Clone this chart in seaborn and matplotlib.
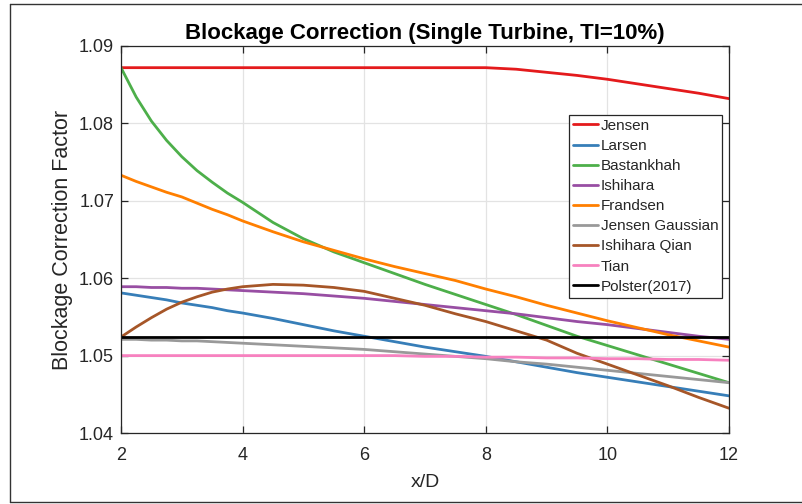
import numpy as np
import pandas as pd
import matplotlib
matplotlib.use("Agg")
import matplotlib.pyplot as plt
import seaborn as sns
from matplotlib.lines import Line2D

# Downstream distance (rotor diameters); finer spacing in the near wake
x_d = [2.0, 2.25, 2.5, 2.75, 3.0, 3.25, 3.5, 3.75, 4.0, 4.5, 5.0, 5.5, 6.0, 6.5, 7.0,
       7.5, 8.0, 8.5, 9.0, 9.5, 10.0, 10.5, 11.0, 11.5, 12.0]

# Blockage correction factor for each wake model
jensen = [1.0872, 1.0872, 1.0872, 1.0872, 1.0872, 1.0872, 1.0872, 1.0872, 1.0872, 1.0872,
          1.0872, 1.0872, 1.0872, 1.0872, 1.0872, 1.0872, 1.0872, 1.0870, 1.0866, 1.0862,
          1.0857, 1.0851, 1.0845, 1.0839, 1.0832]
larsen = [1.0581, 1.0578, 1.0575, 1.0572, 1.0568, 1.0565, 1.0562, 1.0558, 1.0555, 1.0548,
          1.0540, 1.0532, 1.0525, 1.0518, 1.0511, 1.0505, 1.0499, 1.0492, 1.0485, 1.0478,
          1.0472, 1.0466, 1.0460, 1.0454, 1.0448]
bastankhah = [1.0872, 1.0834, 1.0803, 1.0778, 1.0757, 1.0739, 1.0724, 1.0710, 1.0698, 1.0672,
              1.0651, 1.0634, 1.0620, 1.0606, 1.0592, 1.0579, 1.0566, 1.0553, 1.0539, 1.0525,
              1.0513, 1.0501, 1.0489, 1.0477, 1.0465]
ishihara = [1.0589, 1.0589, 1.0588, 1.0588, 1.0587, 1.0587, 1.0586, 1.0585, 1.0584, 1.0582,
            1.0580, 1.0577, 1.0574, 1.0570, 1.0566, 1.0562, 1.0558, 1.0554, 1.0549, 1.0544,
            1.0540, 1.0535, 1.0530, 1.0525, 1.0521]
frandsen = [1.0733, 1.0725, 1.0718, 1.0711, 1.0705, 1.0697, 1.0689, 1.0682, 1.0674, 1.0660,
            1.0647, 1.0636, 1.0625, 1.0615, 1.0606, 1.0597, 1.0586, 1.0576, 1.0565, 1.0555,
            1.0545, 1.0536, 1.0527, 1.0519, 1.0511]
jensen_gaussian = [1.0521, 1.0521, 1.0520, 1.0520, 1.0519, 1.0519, 1.0518, 1.0517, 1.0516, 1.0514,
                   1.0512, 1.0510, 1.0508, 1.0505, 1.0502, 1.0499, 1.0496, 1.0492, 1.0489, 1.0485,
                   1.0481, 1.0477, 1.0473, 1.0469, 1.0465]
ishihara_qian = [1.0524, 1.0537, 1.0549, 1.0560, 1.0569, 1.0576, 1.0582, 1.0586, 1.0589, 1.0592,
                 1.0591, 1.0588, 1.0583, 1.0574, 1.0565, 1.0554, 1.0544, 1.0532, 1.0520, 1.0503,
                 1.0489, 1.0475, 1.0461, 1.0446, 1.0432]
tian = [1.0500, 1.0500, 1.0500, 1.0500, 1.0500, 1.0500, 1.0500, 1.0500, 1.0500, 1.0500,
        1.0500, 1.0500, 1.0500, 1.0500, 1.0499, 1.0499, 1.0498, 1.0498, 1.0497, 1.0497,
        1.0496, 1.0496, 1.0495, 1.0495, 1.0494]
polster = [1.0524] * len(x_d)

model_names = ["Jensen", "Larsen", "Bastankhah", "Ishihara", "Frandsen",
               "Jensen Gaussian", "Ishihara Qian", "Tian", "Polster(2017)"]
model_values = [jensen, larsen, bastankhah, ishihara, frandsen,
                jensen_gaussian, ishihara_qian, tian, polster]
model_colors = ["#e41a1c", "#377eb8", "#4daf4a", "#984ea3", "#ff7f00",
                "#999999", "#a65628", "#f781bf", "#000000"]

x_ticks = [2, 4, 6, 8, 10, 12]
y_ticks = [1.04, 1.05, 1.06, 1.07, 1.08, 1.09]

frames = [pd.DataFrame({"x/D": x_d, "factor": vals, "model": name})
          for name, vals in zip(model_names, model_values)]
df = pd.concat(frames, ignore_index=True)

sns.set_theme(style="white")
plt.rcParams["font.family"] = ["Liberation Sans", "DejaVu Sans"]

axis_grey = "#262626"

fig = plt.figure(figsize=(8.02, 5.04), dpi=100)
ax = fig.add_axes([121 / 802, 1 - 433 / 504, 608 / 802, 387 / 504])

sns.lineplot(data=df, x="x/D", y="factor", hue="model", hue_order=model_names,
             palette=dict(zip(model_names, model_colors)), linewidth=2.0,
             ax=ax, legend=False, sort=False)

ax.set_xlim(2, 12)
ax.set_ylim(1.04, 1.09)
ax.set_xticks(x_ticks)
ax.set_yticks(y_ticks)
ax.set_xticklabels([str(t) for t in x_ticks])
ax.set_yticklabels([f"{t:.2f}" for t in y_ticks])

ax.grid(True, color="#e3e3e3", linewidth=0.9)
ax.set_axisbelow(True)
for s in ax.spines.values():
    s.set_color(axis_grey)
    s.set_linewidth(0.9)
ax.tick_params(axis="both", which="both", direction="in", length=5, width=0.9,
               color=axis_grey, labelcolor=axis_grey, labelsize=13,
               top=True, right=True, bottom=True, left=True)
ax.tick_params(axis="x", pad=10)
ax.tick_params(axis="y", pad=5)

ax.set_xlabel("x/D", fontsize=14, color=axis_grey, labelpad=7)
ax.set_ylabel("Blockage Correction Factor", fontsize=15.5, color=axis_grey, labelpad=4)
ax.set_title("Blockage Correction (Single Turbine, TI=10%)", fontsize=16,
             fontweight="bold", color="black", pad=5)

handles = [Line2D([], [], color=c, linewidth=2.0) for c in model_colors]
leg = ax.legend(handles, model_names, loc="upper right",
                bbox_to_anchor=((722 - 121) / 608, (433 - 115) / 387),
                borderaxespad=0, fontsize=11, frameon=True, fancybox=False,
                framealpha=1, edgecolor=axis_grey, handlelength=1.6,
                handletextpad=0.2, labelspacing=0.4, borderpad=0.25)
leg.get_frame().set_linewidth(0.9)

# Thin frame around the figure
for xs, ys in [((10 / 802, 1.0), (1 - 4 / 504, 1 - 4 / 504)),
               ((10 / 802, 10 / 802), (1 - 4 / 504, 1 - 502 / 504)),
               ((10 / 802, 1.0), (1 - 502 / 504, 1 - 502 / 504))]:
    fig.add_artist(Line2D(xs, ys, transform=fig.transFigure, color="#333333", linewidth=1.0))

fig.savefig("out.png", dpi=100)
